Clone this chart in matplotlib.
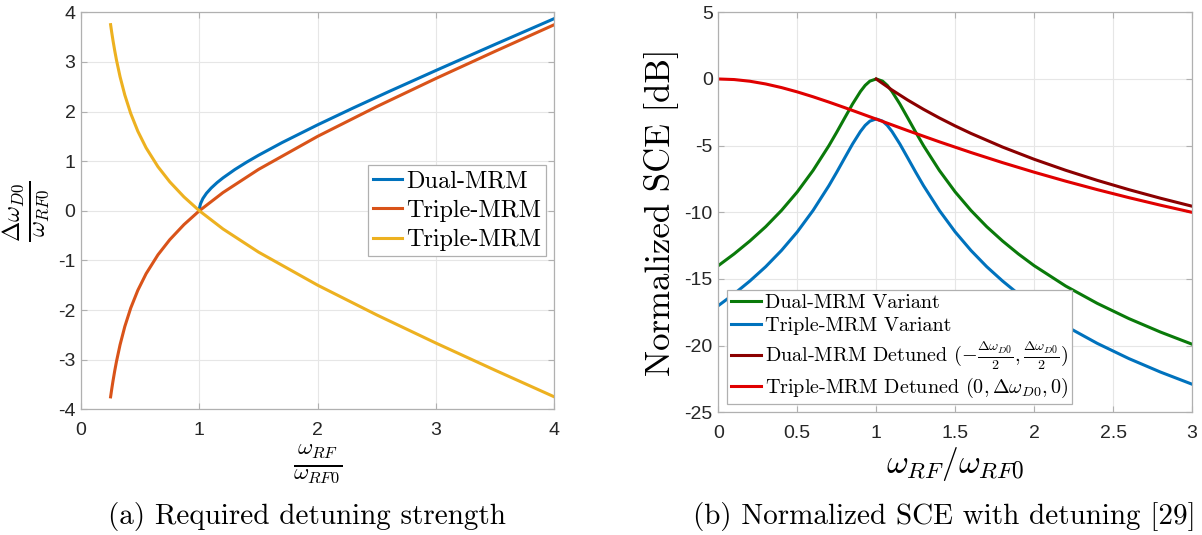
#!/usr/bin/env python3
"""Detuning strength and normalized SCE, two panels side by side."""
import matplotlib
matplotlib.use('Agg')
import matplotlib.pyplot as plt

plt.rcParams['mathtext.fontset'] = 'cm'
plt.rcParams['axes.unicode_minus'] = False
plt.rcParams['axes.formatter.use_mathtext'] = False

SERIF = 'cmr10'
TICKFONT = 'Liberation Sans'

# ---- panel (a) data: required detuning strength ----
dual_x = [1.0, 1.002, 1.01, 1.03, 1.06, 1.1, 1.15, 1.2, 1.3, 1.4, 1.5, 1.7,
          2.0, 2.3, 2.6, 3.0, 3.5, 4.0]
dual_y = [0.0, 0.063, 0.142, 0.247, 0.352, 0.458, 0.568, 0.663, 0.831, 0.980,
          1.118, 1.375, 1.732, 2.071, 2.400, 2.828, 3.354, 3.873]

triple_x = [0.25, 0.26, 0.27, 0.285, 0.3, 0.33, 0.37, 0.42, 0.48, 0.55, 0.65,
            0.75, 0.87, 1.0, 1.2, 1.5, 2.0, 2.5, 3.0, 3.5, 4.0]
triple_up = [-3.75, -3.586, -3.434, -3.224, -3.033, -2.700, -2.333, -1.961,
             -1.603, -1.268, -0.888, -0.583, -0.279, 0.0, 0.367, 0.833, 1.5,
             2.1, 2.667, 3.214, 3.75]
triple_dn = [3.75, 3.586, 3.434, 3.224, 3.033, 2.700, 2.333, 1.961,
             1.603, 1.268, 0.888, 0.583, 0.279, 0.0, -0.367, -0.833, -1.5,
             -2.1, -2.667, -3.214, -3.75]

# ---- panel (b) data: normalized SCE [dB] ----
var_x = [0.0, 0.1, 0.2, 0.3, 0.4, 0.5, 0.6, 0.7, 0.75, 0.8, 0.85, 0.9, 0.93,
         0.96, 1.0, 1.04, 1.07, 1.1, 1.15, 1.2, 1.25, 1.3, 1.4, 1.5, 1.6,
         1.7, 1.8, 1.9, 2.0, 2.2, 2.4, 2.6, 2.8, 3.0]
dual_var = [-14.0, -13.12, -12.15, -11.08, -9.86, -8.47, -6.86, -5.01, -3.99,
            -2.93, -1.88, -0.94, -0.48, -0.16, 0.0, -0.16, -0.48, -0.94,
            -1.88, -2.93, -3.99, -5.01, -6.86, -8.47, -9.86, -11.08, -12.15,
            -13.12, -14.0, -15.53, -16.83, -17.97, -18.98, -19.89]
triple_var = [-17.0, -16.12, -15.15, -14.08, -12.86, -11.47, -9.86, -8.01,
              -6.99, -5.93, -4.88, -3.94, -3.48, -3.16, -3.0, -3.16, -3.48,
              -3.94, -4.88, -5.93, -6.99, -8.01, -9.86, -11.47, -12.86,
              -14.08, -15.15, -16.12, -17.0, -18.53, -19.83, -20.97, -21.98,
              -22.89]

det_dual_x = [1.0, 1.1, 1.2, 1.3, 1.4, 1.5, 1.6, 1.8, 2.0, 2.2, 2.4, 2.6,
              2.8, 3.0]
det_dual = [0.0, -0.828, -1.584, -2.279, -2.923, -3.522, -4.082, -5.105,
            -6.021, -6.848, -7.604, -8.299, -8.943, -9.542]

det_tri_x = [0.0, 0.1, 0.2, 0.3, 0.4, 0.5, 0.6, 0.7, 0.8, 0.9, 1.0, 1.2, 1.4,
             1.6, 1.8, 2.0, 2.2, 2.4, 2.6, 2.8, 3.0]
det_tri = [0.0, -0.043, -0.170, -0.374, -0.645, -0.969, -1.335, -1.732,
           -2.148, -2.577, -3.010, -3.874, -4.713, -5.514, -6.274, -6.990,
           -7.664, -8.299, -8.899, -9.465, -10.0]

fig = plt.figure(figsize=(12.02, 5.35), dpi=100)
fig.patch.set_facecolor('white')

ax1 = fig.add_axes([0.0674, 0.2350, 0.3938, 0.7421])
ax2 = fig.add_axes([0.5976, 0.2293, 0.3941, 0.7477])


def matlab_style(ax):
    ax.grid(True, color='#e6e6e6', linewidth=0.8)
    ax.set_axisbelow(True)
    for sp in ax.spines.values():
        sp.set_color('#b0b0b0')
        sp.set_linewidth(0.9)
    ax.tick_params(direction='in', length=4, width=0.8, color='#b0b0b0',
                   top=True, right=True, labelsize=14, labelcolor='#262626')
    ax.tick_params(axis='x', pad=9)
    ax.tick_params(axis='y', pad=4)
    for lab in ax.get_xticklabels() + ax.get_yticklabels():
        lab.set_fontfamily(TICKFONT)


def style_legend(leg):
    leg.get_frame().set_edgecolor('#b0b0b0')
    leg.get_frame().set_linewidth(0.9)


# ============ (a) ============
ax1.plot(dual_x, dual_y, color='#0072BD', lw=2.2, label='Dual-MRM')
ax1.plot(triple_x, triple_up, color='#D95319', lw=2.2, label='Triple-MRM')
ax1.plot(triple_x, triple_dn, color='#EDB120', lw=2.2, label='Triple-MRM')
ax1.set_xlim(0, 4)
ax1.set_ylim(-4, 4)
ax1.set_xticks([0, 1, 2, 3, 4])
ax1.set_yticks(range(-4, 5))
matlab_style(ax1)
ax1.set_xlabel(r'$\frac{\omega_{RF}}{\omega_{RF0}}$', fontsize=24, labelpad=3)
ax1.set_ylabel(r'$\frac{\Delta\omega_{D0}}{\omega_{RF0}}$', fontsize=25,
               labelpad=4)
leg1 = ax1.legend(loc='center right', bbox_to_anchor=(0.982, 0.5),
                  prop={'family': SERIF, 'size': 17.5}, handlelength=1.2,
                  handletextpad=0.15, borderpad=0.2, labelspacing=0.3,
                  fancybox=False, framealpha=1, borderaxespad=0.0)
style_legend(leg1)

# ============ (b) ============
ax2.plot(var_x, dual_var, color='#0A7A0A', lw=2.2,
         label='Dual-MRM Variant')
ax2.plot(var_x, triple_var, color='#0072BD', lw=2.2,
         label='Triple-MRM Variant')
ax2.plot(det_dual_x, det_dual, color='#8B0000', lw=2.2,
         label=r'Dual-MRM Detuned $(-\frac{\Delta\omega_{D0}}{2},\frac{\Delta\omega_{D0}}{2})$')
ax2.plot(det_tri_x, det_tri, color='#E00000', lw=2.2,
         label=r'Triple-MRM Detuned $(0,\Delta\omega_{D0},0)$')
ax2.set_xlim(0, 3)
ax2.set_ylim(-25, 5)
ax2.set_xticks([0, 0.5, 1, 1.5, 2, 2.5, 3])
ax2.set_xticklabels(['0', '0.5', '1', '1.5', '2', '2.5', '3'])
ax2.set_yticks(range(-25, 6, 5))
matlab_style(ax2)
ax2.set_xlabel(r'$\omega_{RF}/\omega_{RF0}$', fontsize=24, labelpad=2)
ax2.set_ylabel('Normalized SCE [dB]', fontfamily=SERIF, fontsize=25,
               labelpad=4)
leg2 = ax2.legend(loc='lower left', bbox_to_anchor=(0.018, 0.02),
                  prop={'family': SERIF, 'size': 14.5}, handlelength=1.5,
                  handletextpad=0.17, borderpad=0.2, labelspacing=0.22,
                  fancybox=False, framealpha=1, borderaxespad=0.0)
style_legend(leg2)

# captions
fig.text(0.2552, 0.034, '(a) Required detuning strength', ha='center',
         va='center', fontfamily=SERIF, fontsize=21)
fig.text(0.7854, 0.034, '(b) Normalized SCE with detuning [29]', ha='center',
         va='center', fontfamily=SERIF, fontsize=21)

plt.savefig('out.png', dpi=100, facecolor='white')
plt.close()
